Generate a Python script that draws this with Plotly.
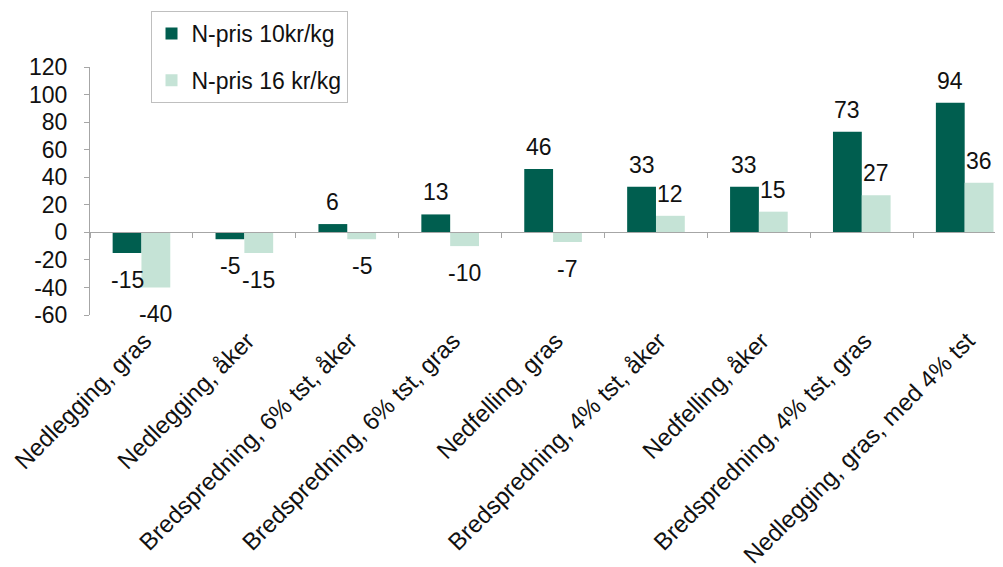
import plotly.graph_objects as go

categories = [
    "Nedlegging, gras",
    "Nedlegging, åker",
    "Bredspredning, 6% tst, åker",
    "Bredspredning, 6% tst, gras",
    "Nedfelling, gras",
    "Bredspredning, 4% tst, åker",
    "Nedfelling, åker",
    "Bredspredning, 4% tst, gras",
    "Nedlegging, gras, med 4% tst",
]
series_names = ["N-pris 10kr/kg", "N-pris 16 kr/kg"]
values_10 = [-15, -5, 6, 13, 46, 33, 33, 73, 94]
values_16 = [-40, -15, -5, -10, -7, 12, 15, 27, 36]
y_ticks = [-60, -40, -20, 0, 20, 40, 60, 80, 100, 120]

colors = ["#005E4F", "#C5E3D6"]
FONT = "Liberation Sans, Arial, sans-serif"
TXT = "#111111"
AXC = "#a6a6a6"

y_range = [-60, 120]
x_range = [-0.5, 8.45]
bargap = 0.44

fig = go.Figure()
for i, (name, vals) in enumerate(zip(series_names, [values_10, values_16])):
    fig.add_trace(go.Bar(
        x=categories, y=vals, name=name, marker_color=colors[i],
        marker_line_width=0, legendgroup=name, xaxis="x", yaxis="y",
    ))

# invisible trace to drive the label axis
fig.add_trace(go.Scatter(
    x=categories, y=[0] * len(categories), mode="markers",
    marker=dict(opacity=0), showlegend=False, hoverinfo="skip",
    xaxis="x2", yaxis="y",
))

# data labels
off = (1 - bargap) / 4
annotations = []
for i, vals in enumerate([values_10, values_16]):
    dx = -off if i == 0 else off
    for j, v in enumerate(vals):
        annotations.append(dict(
            x=j + dx, y=v, xref="x", yref="y", text=str(v), showarrow=False,
            yshift=22 if v >= 0 else -27,
            font=dict(family=FONT, size=23, color=TXT),
        ))

zero_pos = (0 - y_range[0]) / (y_range[1] - y_range[0])

fig.update_layout(
    width=1003, height=567,
    margin=dict(l=82, r=0, t=59, b=260, autoexpand=False),
    paper_bgcolor="white", plot_bgcolor="white",
    barmode="group", bargap=bargap, bargroupgap=0,
    showlegend=True,
    legend=dict(
        x=0.0657, y=1.226, xanchor="left", yanchor="top",
        bgcolor="white", bordercolor="#bfbfbf", borderwidth=1,
        font=dict(family=FONT, size=23, color=TXT),
        traceorder="grouped", tracegroupgap=14, itemwidth=30,
    ),
    xaxis=dict(
        type="category", range=x_range, anchor="free", position=zero_pos,
        showline=True, linecolor=AXC, linewidth=1,
        ticks="outside", tickson="boundaries", ticklen=5, tickcolor=AXC,
        showticklabels=False, showgrid=False, zeroline=False, automargin=False,
    ),
    xaxis2=dict(
        type="category", overlaying="x", matches="x", anchor="y", side="bottom",
        showline=False, ticks="", showgrid=False, zeroline=False, automargin=False,
        tickangle=-45, ticklabelstandoff=6, ticklabelshift=3,
        tickfont=dict(family=FONT, size=24, color=TXT),
    ),
    yaxis=dict(
        range=y_range, tickvals=y_ticks, ticktext=[str(v) for v in y_ticks],
        showline=True, linecolor=AXC, automargin=False,
        linewidth=1, ticks="outside", ticklen=5, tickcolor=AXC,
        showgrid=False, zeroline=False, ticklabelstandoff=12,
        tickfont=dict(family=FONT, size=23, color=TXT),
    ),
    annotations=annotations,
)

fig.write_html("out.html")
